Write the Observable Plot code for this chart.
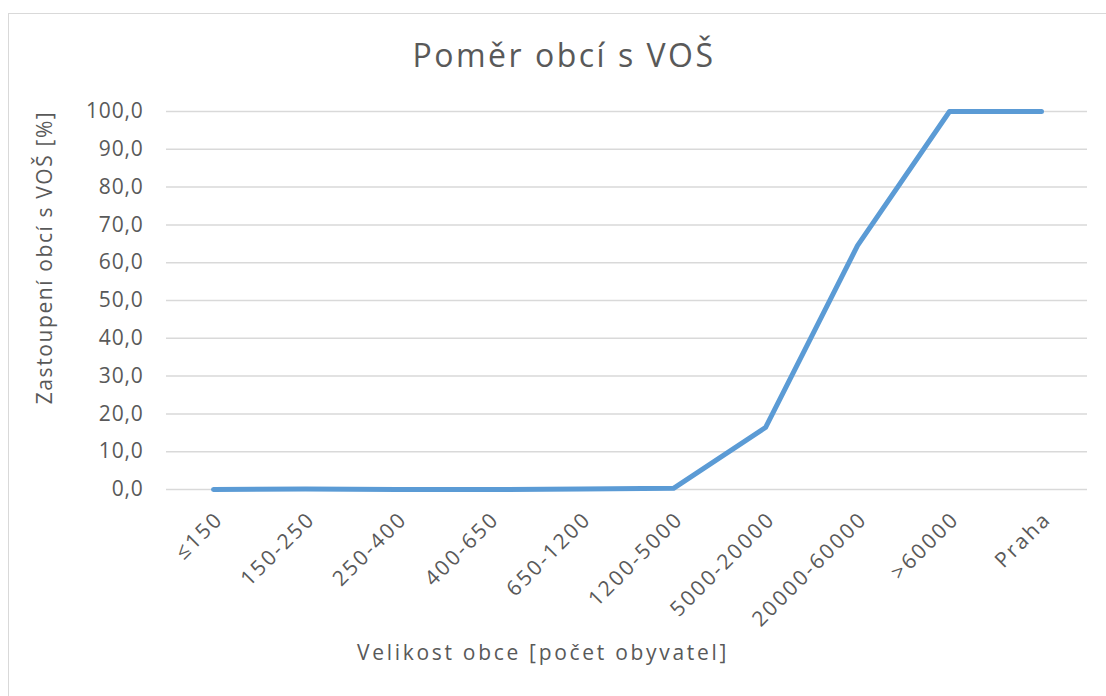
<!DOCTYPE html>
<html>
<head>
<meta charset="utf-8">
<script src="https://cdn.jsdelivr.net/npm/d3@7"></script>
<script src="https://cdn.jsdelivr.net/npm/@observablehq/plot@0.6"></script>
<style>
  html, body { margin: 0; padding: 0; background: #fff; }
  #wrap { position: relative; width: 1106px; height: 696px; overflow: hidden; }
  #frame { position: absolute; left: 8px; top: 13px; width: 1200px; height: 800px; border: 1.5px solid #d9d9d9; box-sizing: border-box; }
  #title { position: absolute; left: 0; top: 39px; width: 1128px; text-align: center; font-family: "Open Sans", sans-serif; font-size: 32px; line-height: 32px; letter-spacing: 2.5px; color: #595959; }
  #chart { position: absolute; left: 0; top: 0; }
</style>
</head>
<body>
<div id="wrap">
  <div id="frame"></div>
  <div id="title">Poměr obcí s VOŠ</div>
  <div id="chart"></div>
</div>
<script>
const categories = ["≤150", "150-250", "250-400", "400-650", "650-1200", "1200-5000", "5000-20000", "20000-60000", ">60000", "Praha"];
const values = [0.0, 0.1, 0.0, 0.0, 0.1, 0.3, 16.4, 64.5, 100.0, 100.0];
const yTicks = [0, 10, 20, 30, 40, 50, 60, 70, 80, 90, 100];
const yLabel = "Zastoupení obcí s VOŠ [%]";
const xLabel = "Velikost obce [počet obyvatel]";

const data = categories.map((c, i) => ({c, v: values[i]}));
const fmt = d => d.toFixed(1).replace(".", ",");

const chart = Plot.plot({
  width: 1106,
  height: 696,
  marginLeft: 166,
  marginRight: 19,
  marginTop: 111,
  marginBottom: 207,
  x: {type: "point", domain: categories, padding: 0.5, label: null},
  y: {domain: [0, 100], label: null},
  style: {fontFamily: "'Open Sans', sans-serif", fontSize: "21px", color: "#595959", background: "transparent", overflow: "visible"},
  marks: [
    Plot.gridY(yTicks, {stroke: "#d9d9d9", strokeOpacity: 1, strokeWidth: 1.5}),
    Plot.axisY(yTicks, {tickSize: 0, tickPadding: 23, tickFormat: fmt, label: null, fontSize: 21, fill: "#595959"}),
    Plot.axisX({tickRotate: -45, tickSize: 0, tickPadding: 26, dx: 6, label: null, fontSize: 21, fill: "#595959"}),
    Plot.line(data, {x: "c", y: "v", stroke: "#5b9bd5", strokeWidth: 5, strokeLinecap: "round", strokeLinejoin: "round"}),
    Plot.text([yLabel], {frameAnchor: "left", textAnchor: "middle", dx: -121, dy: -43, rotate: -90, fontSize: 21, fill: "#595959"}),
    Plot.text([xLabel], {frameAnchor: "bottom", textAnchor: "middle", lineAnchor: "bottom", dx: -84, dy: 170, fontSize: 21, fill: "#595959"})
  ]
});
d3.select(chart).selectAll('g[aria-label="y-axis tick label"] text').style("letter-spacing", "0.8px");
d3.select(chart).selectAll('g[aria-label="x-axis tick label"] text').style("letter-spacing", "2.3px");
d3.select(chart).selectAll("text").filter(function() { return this.textContent === yLabel; }).style("letter-spacing", "1.6px");
d3.select(chart).selectAll("text").filter(function() { return this.textContent === xLabel; }).style("letter-spacing", "2.7px");
document.getElementById("chart").appendChild(chart);
</script>
</body>
</html>
